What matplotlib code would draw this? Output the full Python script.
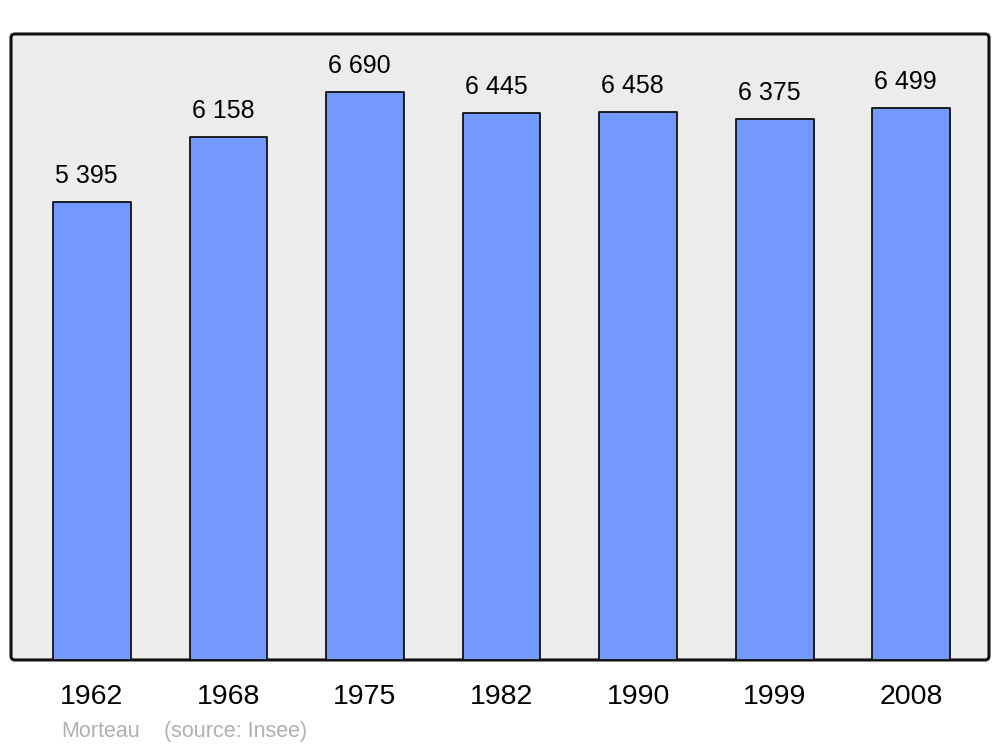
import matplotlib
matplotlib.use("Agg")
import numpy as np
from matplotlib import pyplot as plt
from matplotlib.patches import FancyBboxPatch

plt.rcParams['font.family'] = ['Liberation Sans', 'DejaVu Sans']

years = ["1962", "1968", "1975", "1982", "1990", "1999", "2008"]
population = [5395, 6158, 6690, 6445, 6458, 6375, 6499]
labels = ["5 395", "6 158", "6 690", "6 445", "6 458", "6 375", "6 499"]

fig = plt.figure(figsize=(10, 7.47), dpi=100)
ax = fig.add_axes([0.011, 0.1165, 0.978, 0.838])
ax.set_facecolor("none")

# rounded grey frame behind the bars
frame = FancyBboxPatch((0, 0), 1, 1, boxstyle="round,pad=0,rounding_size=0.004",
                       mutation_aspect=1.56, transform=ax.transAxes,
                       facecolor="#ececec", edgecolor="#111111", linewidth=2.2,
                       clip_on=False, zorder=0)
ax.add_patch(frame)

x = np.arange(len(years))
bars = ax.bar(x, population, width=0.57, color="#7399ff", edgecolor="#111111",
              linewidth=1.3, joinstyle="round", zorder=2)

for xi, v, lab in zip(x, population, labels):
    ax.annotate(lab, (xi, v), xytext=(-4, 10), textcoords="offset points",
                ha="center", va="bottom", fontsize=18)

ax.set_xlim(-0.593, 6.57)
ax.set_ylim(0, 7373)
ax.set_xticks(x)
ax.set_xticklabels(years, fontsize=20.5)
ax.tick_params(axis="x", length=0, pad=17)
ax.set_yticks([])
for s in ax.spines.values():
    s.set_visible(False)

fig.text(0.061, 0.021, "Morteau", color="#b0b0b0", fontsize=15.5, va="center")
fig.text(0.164, 0.021, "(source: Insee)", color="#b0b0b0", fontsize=15.5, va="center")

fig.savefig("out.png", dpi=100)
